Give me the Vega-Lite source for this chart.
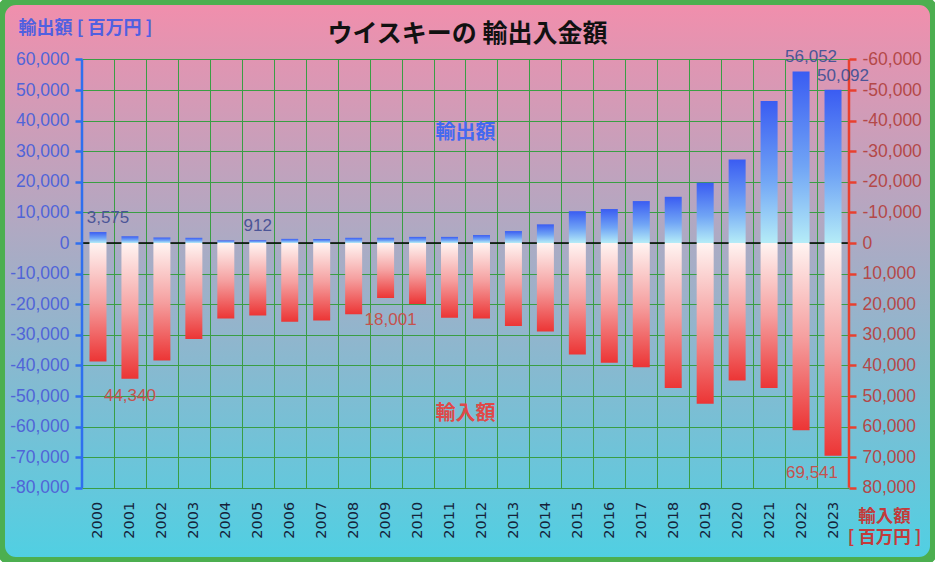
{
  "$schema": "https://vega.github.io/schema/vega-lite/v6.json",
  "width": 935,
  "height": 562,
  "autosize": {"type": "none"},
  "padding": 0,
  "background": "#ffffff",
  "title": {
    "text": "ウイスキーの 輸出入金額",
    "font": "Noto Sans CJK JP",
    "fontSize": 25,
    "fontWeight": "bold",
    "color": "#111111",
    "anchor": "middle",
    "frame": "group",
    "baseline": "middle",
    "offset": -59
  },
  "data": {
    "values": [
      {"year": 2000, "export": 3575, "import": 38700},
      {"year": 2001, "export": 2200, "import": 44340},
      {"year": 2002, "export": 1800, "import": 38400},
      {"year": 2003, "export": 1700, "import": 31400},
      {"year": 2004, "export": 850, "import": 24700},
      {"year": 2005, "export": 912, "import": 23700},
      {"year": 2006, "export": 1350, "import": 25700},
      {"year": 2007, "export": 1300, "import": 25300},
      {"year": 2008, "export": 1700, "import": 23300},
      {"year": 2009, "export": 1700, "import": 18001},
      {"year": 2010, "export": 2000, "import": 19900},
      {"year": 2011, "export": 2000, "import": 24400},
      {"year": 2012, "export": 2600, "import": 24700},
      {"year": 2013, "export": 3900, "import": 27100},
      {"year": 2014, "export": 6100, "import": 28900},
      {"year": 2015, "export": 10400, "import": 36400},
      {"year": 2016, "export": 11100, "import": 39100},
      {"year": 2017, "export": 13700, "import": 40600},
      {"year": 2018, "export": 15100, "import": 47400},
      {"year": 2019, "export": 19700, "import": 52500},
      {"year": 2020, "export": 27300, "import": 44900},
      {"year": 2021, "export": 46400, "import": 47400},
      {"year": 2022, "export": 56052, "import": 61200},
      {"year": 2023, "export": 50092, "import": 69541}
    ]
  },
  "config": {
    "view": {
      "fill": {
        "gradient": "linear", "x1": 0, "y1": 0, "x2": 0, "y2": 1,
        "stops": [
          {"offset": 0, "color": "#F28EAC"},
          {"offset": 1, "color": "#4FD0E3"}
        ]
      },
      "stroke": "#4CAF50",
      "strokeWidth": 10,
      "cornerRadius": 16
    }
  },
  "resolve": {
    "scale": {"x": "independent", "y": "independent"},
    "axis": {"x": "independent", "y": "independent"}
  },
  "layer": [
    {
      "data": {"values": [{"v": 0}]},
      "mark": {"type": "rule", "color": "#000000", "strokeWidth": 1.5},
      "encoding": {
        "x": {
          "datum": 1999.5,
          "type": "quantitative",
          "scale": {"domain": [1996.9341, 2026.1913], "nice": false, "zero": false, "padding": 0},
          "axis": {
            "orient": "bottom", "offset": -74.2,
            "values": [1999.5, 2000.5, 2001.5, 2002.5, 2003.5, 2004.5, 2005.5, 2006.5, 2007.5, 2008.5, 2009.5, 2010.5, 2011.5, 2012.5, 2013.5, 2014.5, 2015.5, 2016.5, 2017.5, 2018.5, 2019.5, 2020.5, 2021.5, 2022.5],
            "labels": false, "domain": false, "grid": false, "ticks": true,
            "tickSize": -428.4, "tickColor": "#3A9E44", "tickWidth": 1,
            "title": null, "zindex": 0
          }
        },
        "x2": {"datum": 2023.5},
        "y": {
          "field": "v",
          "type": "quantitative",
          "scale": {"domain": [-104248, 79412], "nice": false, "zero": false},
          "axis": {
            "orient": "left", "offset": -82,
            "values": [-80000, -70000, -60000, -50000, -40000, -30000, -20000, -10000, 0, 10000, 20000, 30000, 40000, 50000, 60000],
            "labels": false, "domain": false, "grid": false, "ticks": true,
            "tickSize": -767, "tickColor": "#3A9E44", "tickWidth": 1,
            "title": null, "zindex": 0
          }
        }
      }
    },
    {
      "mark": {
        "type": "bar",
        "width": 17,
        "color": {
          "gradient": "linear", "x1": 0, "y1": 0, "x2": 0, "y2": 1,
          "stops": [
            {"offset": 0, "color": "#3A5CF2"},
            {"offset": 0.55, "color": "#70A4F5"},
            {"offset": 1, "color": "#B5ECF7"}
          ]
        }
      },
      "encoding": {
        "x": {
          "field": "year",
          "type": "quantitative",
          "scale": {"domain": [1996.9341, 2026.1913], "nice": false, "zero": false, "padding": 0},
          "axis": {
            "orient": "bottom", "offset": -74.2,
            "values": [2000, 2001, 2002, 2003, 2004, 2005, 2006, 2007, 2008, 2009, 2010, 2011, 2012, 2013, 2014, 2015, 2016, 2017, 2018, 2019, 2020, 2021, 2022, 2023],
            "format": "d", "labelAngle": -90,
            "labelFont": "DejaVu Sans", "labelFontSize": 14.5, "labelColor": "#15223A",
            "labelPadding": 13.5, "ticks": false, "tickSize": 0, "domain": false, "grid": false,
            "labelOverlap": false, "labelFlush": false, "labelBound": false,
            "title": null, "zindex": 1
          }
        },
        "y": {
          "field": "export",
          "type": "quantitative",
          "scale": {"domain": [-104248, 79412], "nice": false, "zero": false},
          "axis": {
            "orient": "left", "offset": -82,
            "values": [-80000, -70000, -60000, -50000, -40000, -30000, -20000, -10000, 0, 10000, 20000, 30000, 40000, 50000, 60000],
            "labelExpr": "replace(format(datum.value, ','), '−', '-')",
            "domain": false, "grid": false, "ticks": true,
            "tickSize": 7, "tickWidth": 2.5, "tickColor": "#2F6FEF",
            "labelFont": "Liberation Sans", "labelFontSize": 17.5, "labelColor": "#5064D8",
            "labelPadding": 6, "labelOverlap": false, "labelFlush": false, "labelBound": false,
            "title": "輸出額 [ 百万円 ]",
            "titleAngle": 0, "titleX": 3, "titleY": 28,
            "titleAlign": "center", "titleBaseline": "middle",
            "titleFont": "Noto Sans CJK JP", "titleFontSize": 18, "titleFontWeight": "bold",
            "titleColor": "#5060E0",
            "zindex": 1
          }
        },
        "y2": {"datum": 0}
      }
    },
    {
      "mark": {
        "type": "bar",
        "width": 17,
        "color": {
          "gradient": "linear", "x1": 0, "y1": 0, "x2": 0, "y2": 1,
          "stops": [
            {"offset": 0, "color": "#FFF4F2"},
            {"offset": 0.5, "color": "#F5A0A0"},
            {"offset": 1, "color": "#EC3535"}
          ]
        }
      },
      "encoding": {
        "x": {
          "field": "year",
          "type": "quantitative",
          "scale": {"domain": [1996.9341, 2026.1913], "nice": false, "zero": false, "padding": 0},
          "axis": null
        },
        "y": {
          "field": "import",
          "type": "quantitative",
          "scale": {"domain": [-79412, 104248], "reverse": true, "nice": false, "zero": false},
          "axis": {
            "orient": "right", "offset": -86,
            "values": [-60000, -50000, -40000, -30000, -20000, -10000, 0, 10000, 20000, 30000, 40000, 50000, 60000, 70000, 80000],
            "labelExpr": "replace(format(datum.value, ','), '−', '-')",
            "domain": false, "grid": false, "ticks": true,
            "tickSize": 7, "tickWidth": 2.5, "tickColor": "#E8402F",
            "labelFont": "Liberation Sans", "labelFontSize": 17.5, "labelColor": "#B44848",
            "labelPadding": 6, "labelOverlap": false, "labelFlush": false, "labelBound": false,
            "title": ["輸入額", "[ 百万円 ]"],
            "titleAngle": 0, "titleX": 35, "titleY": 516,
            "titleAlign": "center", "titleBaseline": "middle", "titleLineHeight": 21,
            "titleFont": "Noto Sans CJK JP", "titleFontSize": 17.5, "titleFontWeight": "bold",
            "titleColor": "#C33B3B",
            "zindex": 1
          }
        },
        "y2": {"datum": 0}
      }
    },
    {
      "data": {"values": [{"v": 0}]},
      "mark": {"type": "rule", "color": "#2F6FEF", "strokeWidth": 2.5},
      "encoding": {
        "x": {"datum": 1999.5, "type": "quantitative", "scale": {"domain": [1996.9341, 2026.1913], "nice": false, "zero": false, "padding": 0}, "axis": null},
        "y": {"datum": 60000, "type": "quantitative", "scale": {"domain": [-104248, 79412], "nice": false, "zero": false}, "axis": null},
        "y2": {"datum": -80000}
      }
    },
    {
      "data": {"values": [{"v": 0}]},
      "mark": {"type": "rule", "color": "#E8402F", "strokeWidth": 2.5},
      "encoding": {
        "x": {"datum": 2023.5, "type": "quantitative", "scale": {"domain": [1996.9341, 2026.1913], "nice": false, "zero": false, "padding": 0}, "axis": null},
        "y": {"datum": 60000, "type": "quantitative", "scale": {"domain": [-104248, 79412], "nice": false, "zero": false}, "axis": null},
        "y2": {"datum": -80000}
      }
    },
    {
      "transform": [{"filter": "datum.year == 2000 || datum.year >= 2022"}],
      "mark": {"type": "text", "baseline": "alphabetic", "dy": -9, "dx": 10, "font": "Liberation Sans", "fontSize": 17, "color": "#4B5597"},
      "encoding": {
        "x": {"field": "year", "type": "quantitative", "scale": {"domain": [1996.9341, 2026.1913], "nice": false, "zero": false, "padding": 0}, "axis": null},
        "y": {"field": "export", "type": "quantitative", "scale": {"domain": [-104248, 79412], "nice": false, "zero": false}, "axis": null},
        "text": {"field": "export", "format": ","}
      }
    },
    {
      "transform": [{"filter": "datum.year == 2005"}],
      "mark": {"type": "text", "baseline": "alphabetic", "dy": -9, "font": "Liberation Sans", "fontSize": 17, "color": "#4B5597"},
      "encoding": {
        "x": {"field": "year", "type": "quantitative", "scale": {"domain": [1996.9341, 2026.1913], "nice": false, "zero": false, "padding": 0}, "axis": null},
        "y": {"field": "export", "type": "quantitative", "scale": {"domain": [-104248, 79412], "nice": false, "zero": false}, "axis": null},
        "text": {"field": "export", "format": ","}
      }
    },
    {
      "transform": [{"filter": "datum.year == 2001"}],
      "mark": {"type": "text", "baseline": "top", "dy": 9, "font": "Liberation Sans", "fontSize": 17, "color": "#C5524E"},
      "encoding": {
        "x": {"field": "year", "type": "quantitative", "scale": {"domain": [1996.9341, 2026.1913], "nice": false, "zero": false, "padding": 0}, "axis": null},
        "y": {"field": "import", "type": "quantitative", "scale": {"domain": [-79412, 104248], "reverse": true, "nice": false, "zero": false}, "axis": null},
        "text": {"field": "import", "format": ","}
      }
    },
    {
      "transform": [{"filter": "datum.year == 2009"}],
      "mark": {"type": "text", "baseline": "top", "dy": 14, "dx": 5, "font": "Liberation Sans", "fontSize": 17, "color": "#C5524E"},
      "encoding": {
        "x": {"field": "year", "type": "quantitative", "scale": {"domain": [1996.9341, 2026.1913], "nice": false, "zero": false, "padding": 0}, "axis": null},
        "y": {"field": "import", "type": "quantitative", "scale": {"domain": [-79412, 104248], "reverse": true, "nice": false, "zero": false}, "axis": null},
        "text": {"field": "import", "format": ","}
      }
    },
    {
      "transform": [{"filter": "datum.year == 2023"}],
      "mark": {"type": "text", "baseline": "top", "dy": 9, "dx": -21, "font": "Liberation Sans", "fontSize": 17, "color": "#C5524E"},
      "encoding": {
        "x": {"field": "year", "type": "quantitative", "scale": {"domain": [1996.9341, 2026.1913], "nice": false, "zero": false, "padding": 0}, "axis": null},
        "y": {"field": "import", "type": "quantitative", "scale": {"domain": [-79412, 104248], "reverse": true, "nice": false, "zero": false}, "axis": null},
        "text": {"field": "import", "format": ","}
      }
    },
    {
      "data": {"values": [{"label": "輸出額"}]},
      "mark": {"type": "text", "font": "Noto Sans CJK JP", "fontWeight": "bold", "fontSize": 20, "color": "#4468F0"},
      "encoding": {
        "x": {"datum": 2011.5, "type": "quantitative", "scale": {"domain": [1996.9341, 2026.1913], "nice": false, "zero": false, "padding": 0}, "axis": null},
        "y": {"datum": 36000, "type": "quantitative", "scale": {"domain": [-104248, 79412], "nice": false, "zero": false}, "axis": null},
        "text": {"field": "label"}
      }
    },
    {
      "data": {"values": [{"label": "輸入額"}]},
      "mark": {"type": "text", "font": "Noto Sans CJK JP", "fontWeight": "bold", "fontSize": 20, "color": "#E04848"},
      "encoding": {
        "x": {"datum": 2011.5, "type": "quantitative", "scale": {"domain": [1996.9341, 2026.1913], "nice": false, "zero": false, "padding": 0}, "axis": null},
        "y": {"datum": 56000, "type": "quantitative", "scale": {"domain": [-79412, 104248], "reverse": true, "nice": false, "zero": false}, "axis": null},
        "text": {"field": "label"}
      }
    }
  ]
}
